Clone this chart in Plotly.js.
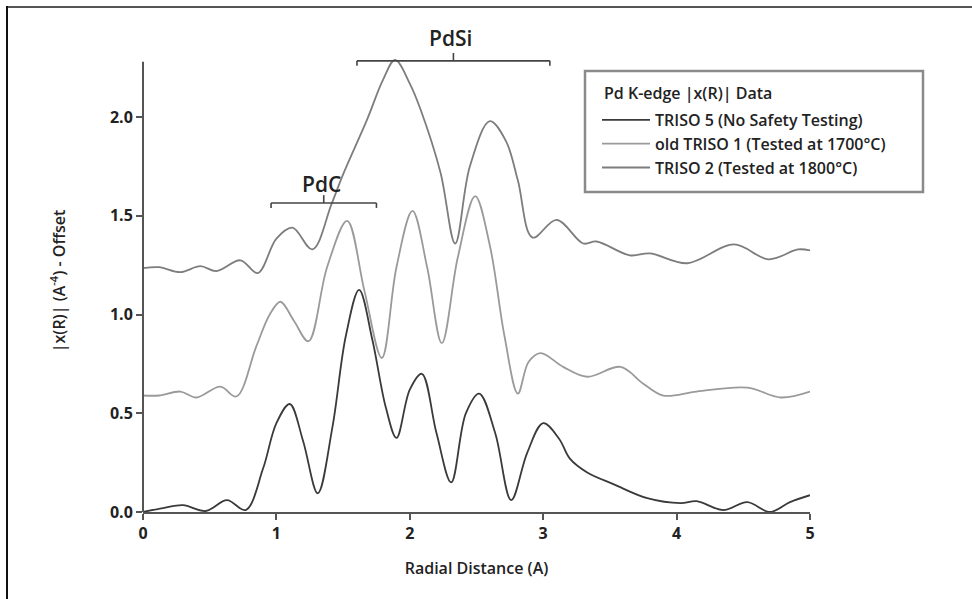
<!DOCTYPE html>
<html>
<head>
<meta charset="utf-8">
<script src="https://cdn.plot.ly/plotly-3.0.1.min.js"></script>
<style>html,body{margin:0;padding:0;background:#fff;}#chart{width:972px;height:599px;}</style>
</head>
<body>
<div id="chart"></div>
<script>
// Series names
const seriesNames = ["TRISO 5 (No Safety Testing)", "old TRISO 1 (Tested at 1700°C)", "TRISO 2 (Tested at 1800°C)"];
const legendTitle = "Pd K-edge |x(R)| Data";

// TRISO 5 (No Safety Testing)
const xTriso5 = [0, 0.15, 0.3, 0.47, 0.63, 0.77, 0.9, 1.0, 1.1, 1.2, 1.31, 1.42, 1.52, 1.62, 1.72, 1.82, 1.9, 2.0, 2.09, 2.2, 2.31, 2.42, 2.52, 2.64, 2.76, 2.88, 3.0, 3.12, 3.2, 3.33, 3.53, 3.78, 4.03, 4.15, 4.35, 4.53, 4.7, 4.85, 5.0];
const yTriso5 = [0, 0.02, 0.035, 0.005, 0.06, 0.01, 0.22, 0.45, 0.547, 0.36, 0.095, 0.43, 0.89, 1.125, 0.87, 0.53, 0.375, 0.62, 0.70, 0.40, 0.15, 0.50, 0.60, 0.40, 0.06, 0.30, 0.45, 0.37, 0.27, 0.20, 0.14, 0.07, 0.045, 0.055, 0.01, 0.05, 0.0, 0.05, 0.085];

// old TRISO 1 (Tested at 1700°C)
const xTriso1 = [0, 0.12, 0.28, 0.4, 0.58, 0.7, 0.85, 0.95, 1.03, 1.13, 1.24, 1.38, 1.53, 1.66, 1.79, 1.9, 2.02, 2.13, 2.24, 2.36, 2.49, 2.6, 2.71, 2.81, 2.89, 2.98, 3.15, 3.33, 3.58, 3.75, 3.9, 4.15, 4.53, 4.78, 5.0];
const yTriso1 = [0.59, 0.59, 0.61, 0.58, 0.635, 0.585, 0.84, 1.0, 1.065, 0.97, 0.865, 1.24, 1.475, 1.12, 0.78, 1.24, 1.525, 1.24, 0.855, 1.29, 1.60, 1.35, 0.89, 0.60, 0.76, 0.805, 0.735, 0.685, 0.735, 0.65, 0.59, 0.61, 0.63, 0.58, 0.61];

// TRISO 2 (Tested at 1800°C)
const xTriso2 = [0, 0.12, 0.28, 0.43, 0.55, 0.73, 0.86, 1.0, 1.12, 1.27, 1.415, 1.503, 1.678, 1.8, 1.89, 2.0, 2.08, 2.23, 2.34, 2.45, 2.6, 2.72, 2.81, 2.92, 3.1, 3.3, 3.4, 3.65, 3.8, 4.08, 4.43, 4.69, 4.91, 5.0];
const yTriso2 = [1.235, 1.24, 1.215, 1.245, 1.22, 1.275, 1.21, 1.385, 1.44, 1.33, 1.563, 1.715, 1.985, 2.19, 2.29, 2.17, 2.04, 1.72, 1.36, 1.75, 1.98, 1.88, 1.68, 1.39, 1.48, 1.36, 1.37, 1.30, 1.31, 1.26, 1.355, 1.28, 1.33, 1.325];

// Axis ticks
const xTicks = [0, 1, 2, 3, 4, 5];
const xTickLabels = ["0", "1", "2", "3", "4", "5"];
const yTicks = [0, 0.5, 1.0, 1.5, 2.0];
const yTickLabels = ["0.0", "0.5", "1.0", "1.5", "2.0"];

// Bracket annotations (label, x start, x end, y level)
const bracketLabels = ["PdC", "PdSi"];
const bracketStart = [0.96, 1.604];
const bracketEnd = [1.75, 3.05];
const bracketLevel = [1.565, 2.285];

const FONT = "'Open Sans', 'Noto Sans', sans-serif";
const colors = ["#3a3a3a", "#9a9a9a", "#7d7d7d"];

const traces = [
  {x: xTriso5, y: yTriso5, name: seriesNames[0]},
  {x: xTriso1, y: yTriso1, name: seriesNames[1]},
  {x: xTriso2, y: yTriso2, name: seriesNames[2]}
].map((t, i) => Object.assign(t, {
  type: "scatter", mode: "lines",
  line: {color: colors[i], width: 1.8, shape: "spline", smoothing: 1.0},
  hoverinfo: "skip"
}));

const L = 143, R = 162, T = 50, B = 87;
const W = 972, H = 599;
const pw = W - L - R, ph = H - T - B;
const px2paperX = px => (px - L) / pw;
const py2paperY = py => (H - B - py) / ph;

const shapes = [];
const annotations = [];
// y axis line
shapes.push({type: "line", xref: "paper", yref: "y", x0: 0, x1: 0, y0: 0, y1: 2.28, line: {color: "#555", width: 2}});
// outer frame: top and left only
shapes.push({type: "line", xref: "paper", yref: "paper", x0: px2paperX(6), x1: px2paperX(972), y0: py2paperY(7), y1: py2paperY(7), line: {color: "#555", width: 2}});
shapes.push({type: "line", xref: "paper", yref: "paper", x0: px2paperX(7), x1: px2paperX(7), y0: py2paperY(6), y1: py2paperY(599), line: {color: "#111", width: 2}});
// legend box
shapes.push({type: "rect", xref: "paper", yref: "paper", x0: px2paperX(585), x1: px2paperX(923), y0: py2paperY(192), y1: py2paperY(71), line: {color: "#8a8a8a", width: 2.5}, fillcolor: "rgba(0,0,0,0)"});
// legend title
annotations.push({xref: "paper", yref: "paper", x: px2paperX(602), y: py2paperY(93), xanchor: "left", yanchor: "middle",
  text: legendTitle, showarrow: false, font: {family: FONT, size: 16, color: "#222", weight: 600}});

const tickDown = 0.025, tickUp = 0.04;
const labelGap = [0.015, 0.035];
bracketLabels.forEach((lab, i) => {
  const x0 = bracketStart[i], x1 = bracketEnd[i], y = bracketLevel[i];
  const xm = (x0 + x1) / 2;
  const ln = {color: "#444", width: 1.6};
  shapes.push({type: "line", xref: "x", yref: "y", x0: x0, x1: x1, y0: y, y1: y, line: ln});
  shapes.push({type: "line", xref: "x", yref: "y", x0: x0, x1: x0, y0: y, y1: y - tickDown, line: ln});
  shapes.push({type: "line", xref: "x", yref: "y", x0: x1, x1: x1, y0: y, y1: y - tickDown, line: ln});
  shapes.push({type: "line", xref: "x", yref: "y", x0: xm, x1: xm, y0: y, y1: y + tickUp, line: ln});
  annotations.push({xref: "x", yref: "y", x: xm - 0.02, y: y + labelGap[i], text: lab, showarrow: false,
    yanchor: "bottom", font: {family: FONT, size: 21, color: "#222", weight: 600}});
});

const layout = {
  width: W, height: H,
  margin: {l: L, r: R, t: T, b: B, pad: 0},
  paper_bgcolor: "#fff", plot_bgcolor: "#fff",
  font: {family: FONT, size: 16, color: "#222", weight: 600},
  showlegend: true,
  legend: {
    x: px2paperX(597), y: py2paperY(103), xanchor: "left", yanchor: "top",
    bgcolor: "rgba(0,0,0,0)", borderwidth: 0,
    font: {family: FONT, size: 16, color: "#222", weight: 600},
    tracegroupgap: 0, itemwidth: 48
  },
  xaxis: {
    range: [0, 5], tickvals: xTicks, ticktext: xTickLabels,
    showline: true, linecolor: "#555", linewidth: 2,
    ticks: "outside", ticklen: 6, tickwidth: 2, tickcolor: "#555",
    showgrid: false, zeroline: false, fixedrange: true,
    tickfont: {family: FONT, size: 16, color: "#222", weight: 700},
    title: {text: "Radial Distance (A)", standoff: 20, font: {family: FONT, size: 16, color: "#222", weight: 600}},
    automargin: false
  },
  yaxis: {
    range: [0, 2.34], tickvals: yTicks, ticktext: yTickLabels,
    showline: false,
    ticks: "outside", ticklen: 6, tickwidth: 2, tickcolor: "#555",
    showgrid: false, zeroline: false, fixedrange: true,
    tickfont: {family: FONT, size: 16, color: "#222", weight: 700},
    title: {text: "|x(R)| (A<sup>-4</sup>) - Offset", standoff: 40, font: {family: FONT, size: 16, color: "#222", weight: 600}},
    automargin: false
  },
  shapes: shapes,
  annotations: annotations
};

Plotly.newPlot("chart", traces, layout, {staticPlot: true, displayModeBar: false});
</script>
</body>
</html>
